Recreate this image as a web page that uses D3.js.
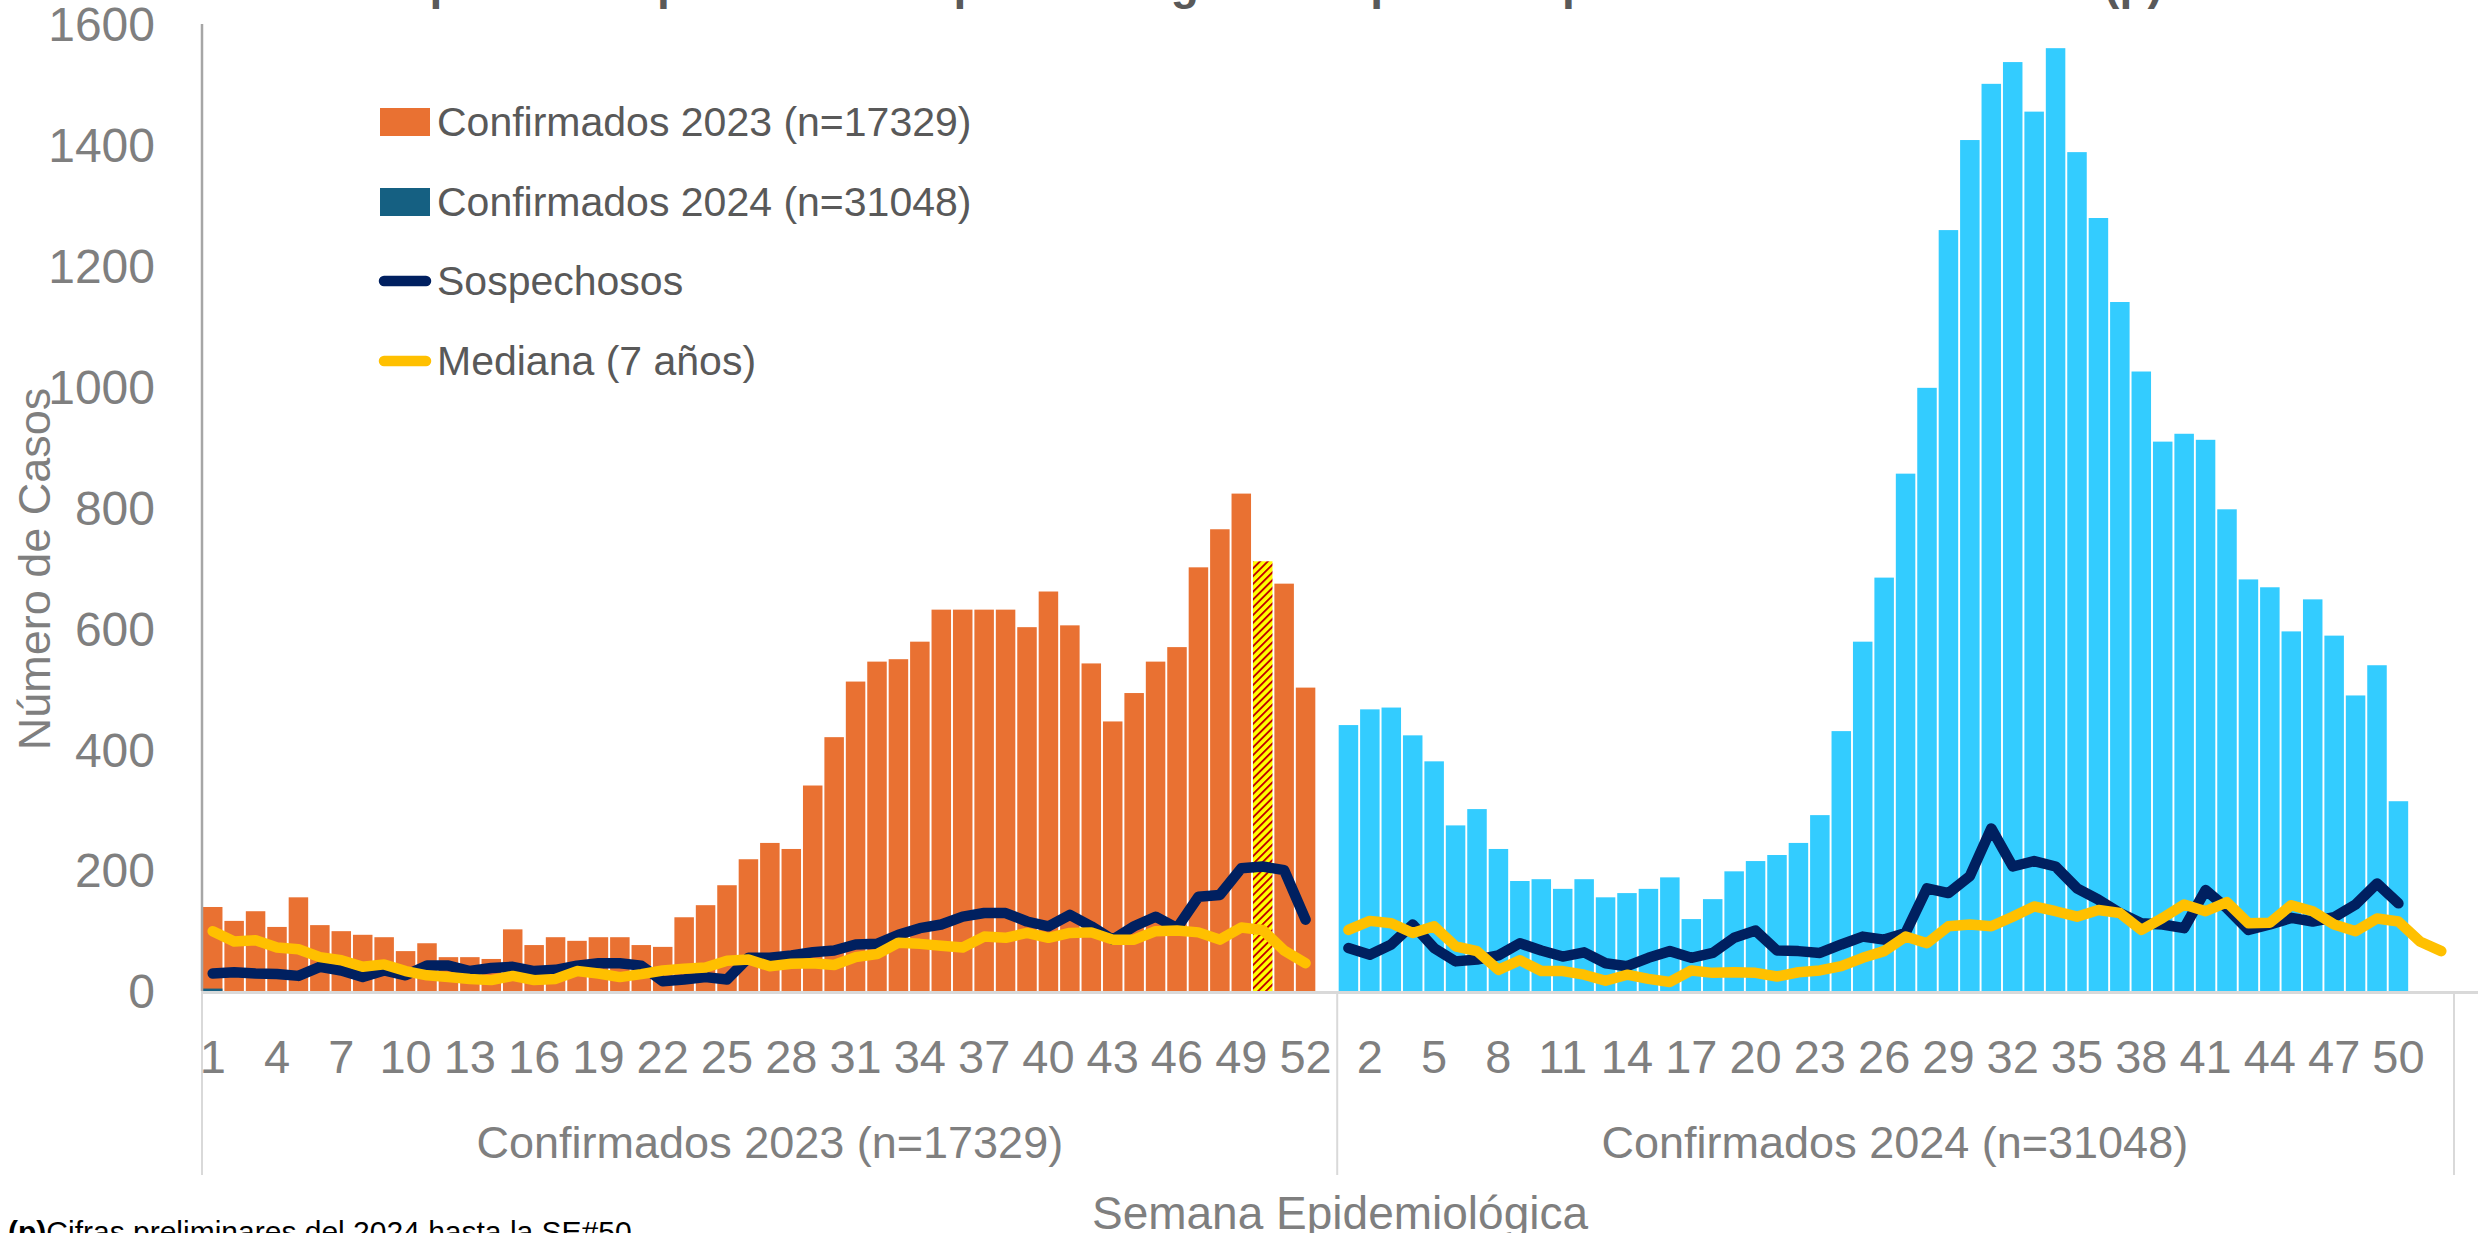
<!DOCTYPE html>
<html><head><meta charset="utf-8">
<script src="https://cdn.jsdelivr.net/npm/d3@7"></script>
<style>html,body{margin:0;padding:0;background:#fff;overflow:hidden;} svg{display:block;}</style>
</head><body>
<svg id="chart" width="2478" height="1233"></svg>
<script>
// ---------- DATA ----------
const groupKeys = ["2023", "2024"];
const groupLabels = ["Confirmados 2023 (n=17329)", "Confirmados 2024 (n=31048)"];
const groupWeekCounts = [53, 52];

const confirmados2023 = [139,116,132,106,155,109,99,93,89,66,79,56,56,53,102,76,89,83,89,89,76,73,122,142,175,218,245,235,340,420,512,545,549,578,631,631,631,631,602,661,605,542,446,493,545,569,701,764,823,711,674,502];
const highlightWeek2023 = 50;
const confirmados2024 = [440,466,469,423,380,274,301,235,182,185,169,185,155,162,169,188,119,152,198,215,225,245,291,430,578,684,856,998,1259,1408,1501,1537,1455,1560,1388,1279,1140,1025,909,922,912,797,681,668,595,648,588,489,539,314];
// small value of the "Confirmados 2024" series drawn in the first category slot
const confirmados2024FirstSlot = [4];

const sospechosos2023 = [29,31,29,28,25,40,34,23,34,26,42,42,33,38,40,33,35,42,46,46,42,16,19,23,19,55,55,59,64,67,77,78,93,104,110,123,129,129,115,107,126,107,85,107,123,104,156,159,203,206,200,118];
const sospechosos2024 = [71,60,77,110,71,49,52,59,79,67,57,64,46,41,55,66,55,63,88,100,67,66,63,77,90,85,96,170,162,190,269,206,215,206,170,151,129,112,110,104,167,137,101,110,121,115,122,143,178,145];

const mediana2023 = [99,82,84,72,69,56,51,40,44,33,26,23,20,18,25,18,20,33,29,23,28,34,37,39,50,52,41,45,46,43,56,61,80,78,75,72,90,88,96,88,96,97,85,85,99,100,97,85,105,101,67,46];
const mediana2024 = [101,116,112,96,107,74,66,35,51,33,33,27,17,27,20,15,34,30,31,30,24,31,34,41,55,66,90,79,107,110,107,123,140,132,123,134,129,101,121,143,132,147,112,113,142,132,110,99,120,115,82,66];

const tickWeeks2023 = [1,4,7,10,13,16,19,22,25,28,31,34,37,40,43,46,49,52];
const tickWeeks2024 = [2,5,8,11,14,17,20,23,26,29,32,35,38,41,44,47,50];
const yTicks = [0,200,400,600,800,1000,1200,1400,1600];

const legendLabels = ["Confirmados 2023 (n=17329)", "Confirmados 2024 (n=31048)", "Sospechosos", "Mediana (7 años)"];

const titleText = "Sospechosos por semana epidemiológica comparativo para los años 2023-2024 (p)";
const footnoteBold = "(p)";
const footnoteText = "Cifras preliminares del 2024 hasta la SE#50";
const xTitle = "Semana Epidemiológica";
const yTitle = "Número de Casos";

// ---------- STYLE ----------
const C = {
  orange: "#E97132", cyan: "#33CCFF", teal: "#156082", navy: "#002060", gold: "#FFC000",
  axis: "#D9D9D9", yaxis: "#A6A6A6", tick: "#7F7F7F", legend: "#595959", title: "#595959"
};
const FONT = "'Liberation Sans', Arial, sans-serif";

const svg = d3.select("#chart");
const plotLeft = 202, plotRight = 2452, plotTop = 24, plotBase = 991;

// categories
const cats = [];
groupKeys.forEach((g, gi) => { d3.range(1, groupWeekCounts[gi] + 1).forEach(w => cats.push(g + "-" + w)); });

const x = d3.scaleBand().domain(cats).range([plotLeft, plotRight]).paddingInner(0.09).paddingOuter(0.045);
const step = x.step();
const y = d3.scaleLinear().domain([0, 1600]).range([plotBase, plotTop]);
const cx = k => x(k) + x.bandwidth() / 2;

// pattern
const defs = svg.append("defs");
const pat = defs.append("pattern").attr("id", "hatch").attr("patternUnits", "userSpaceOnUse")
  .attr("width", 5.5).attr("height", 5.5).attr("patternTransform", "rotate(45)");
pat.append("rect").attr("width", 5.5).attr("height", 5.5).attr("fill", "#FFFF00");
pat.append("rect").attr("x", 0).attr("y", 0).attr("width", 1.9).attr("height", 5.5).attr("fill", "#C00000");

// title (mostly cut off at top)
svg.append("text").attr("x", 1254).attr("y", -1).attr("text-anchor", "middle")
  .attr("font-family", FONT).attr("font-weight", "bold").attr("font-size", 46)
  .attr("fill", C.title).text(titleText);

// bars 2023
const bars23 = confirmados2023.map((v, i) => ({ k: "2023-" + (i + 1), v, w: i + 1 }));
svg.append("g").selectAll("rect").data(bars23).join("rect")
  .attr("x", d => x(d.k)).attr("width", x.bandwidth())
  .attr("y", d => y(d.v)).attr("height", d => y(0) - y(d.v))
  .attr("fill", d => d.w === highlightWeek2023 ? "url(#hatch)" : C.orange);

// tiny teal bar (Confirmados 2024 series, first slot)
svg.append("g").selectAll("rect").data(confirmados2024FirstSlot).join("rect")
  .attr("x", x("2023-1")).attr("width", x.bandwidth())
  .attr("y", d => y(d)).attr("height", d => y(0) - y(d)).attr("fill", C.teal);

// bars 2024
const bars24 = confirmados2024.map((v, i) => ({ k: "2024-" + (i + 1), v }));
svg.append("g").selectAll("rect").data(bars24).join("rect")
  .attr("x", d => x(d.k)).attr("width", x.bandwidth())
  .attr("y", d => y(d.v)).attr("height", d => y(0) - y(d.v))
  .attr("fill", C.cyan);

// lines
function series(a23, a24) {
  const out = [];
  for (let w = 1; w <= groupWeekCounts[0]; w++) out.push({ k: "2023-" + w, v: a23[w - 1] ?? null });
  for (let w = 1; w <= groupWeekCounts[1]; w++) out.push({ k: "2024-" + w, v: a24[w - 1] ?? null });
  return out;
}
const line = d3.line().defined(d => d.v != null).x(d => cx(d.k)).y(d => y(d.v));
svg.append("path").datum(series(sospechosos2023, sospechosos2024)).attr("d", line)
  .attr("fill", "none").attr("stroke", C.navy).attr("stroke-width", 10.5)
  .attr("stroke-linejoin", "round").attr("stroke-linecap", "round");
svg.append("path").datum(series(mediana2023, mediana2024)).attr("d", line)
  .attr("fill", "none").attr("stroke", C.gold).attr("stroke-width", 10.5)
  .attr("stroke-linejoin", "round").attr("stroke-linecap", "round");

// axes
svg.append("line").attr("x1", plotLeft).attr("x2", 2478).attr("y1", plotBase + 1.5).attr("y2", plotBase + 1.5)
  .attr("stroke", C.axis).attr("stroke-width", 3);
svg.append("line").attr("x1", plotLeft).attr("x2", plotLeft).attr("y1", plotTop).attr("y2", plotBase)
  .attr("stroke", C.yaxis).attr("stroke-width", 2.5);
const sepX = [plotLeft, x("2024-1") - step * 0.045 - 0.5, 2454];
svg.append("g").selectAll("line").data(sepX).join("line")
  .attr("x1", d => d).attr("x2", d => d).attr("y1", plotBase).attr("y2", 1175)
  .attr("stroke", C.axis).attr("stroke-width", 2);

// y tick labels
svg.append("g").selectAll("text").data(yTicks).join("text")
  .attr("x", 155).attr("y", d => y(d)).attr("dy", "0.36em").attr("text-anchor", "end")
  .attr("font-family", FONT).attr("font-size", 48).attr("fill", C.tick).text(d => d);

// x tick labels
const xTickData = tickWeeks2023.map(w => ({ k: "2023-" + w, t: w })).concat(tickWeeks2024.map(w => ({ k: "2024-" + w, t: w })));
svg.append("g").selectAll("text").data(xTickData).join("text")
  .attr("x", d => cx(d.k)).attr("y", 1073).attr("text-anchor", "middle")
  .attr("font-family", FONT).attr("font-size", 47).attr("fill", C.tick).text(d => d.t);

// group labels
svg.append("g").selectAll("text").data(groupKeys).join("text")
  .attr("x", (g, i) => (x(g + "-1") + x(g + "-" + groupWeekCounts[i]) + x.bandwidth()) / 2)
  .attr("y", 1158).attr("text-anchor", "middle")
  .attr("font-family", FONT).attr("font-size", 45).attr("fill", C.tick).text((g, i) => groupLabels[i]);

// axis titles
svg.append("text").attr("x", 1340).attr("y", 1229).attr("text-anchor", "middle")
  .attr("font-family", FONT).attr("font-size", 46).attr("fill", C.tick).text(xTitle);
svg.append("text").attr("transform", "translate(50,569) rotate(-90)").attr("text-anchor", "middle")
  .attr("font-family", FONT).attr("font-size", 45).attr("fill", C.tick).text(yTitle);

// footnote
const fn = svg.append("text").attr("x", 8).attr("y", 1242)
  .attr("font-family", FONT).attr("font-size", 30).attr("fill", "#000");
fn.append("tspan").attr("font-weight", "bold").text(footnoteBold);
fn.append("tspan").text(footnoteText);

// legend
const lg = svg.append("g");
const rowsY = [122, 202, 281, 361];
const kinds = ["rect", "rect", "line", "line"];
const colors = [C.orange, C.teal, C.navy, C.gold];
legendLabels.forEach((lab, i) => {
  if (kinds[i] === "rect") {
    lg.append("rect").attr("x", 380).attr("y", rowsY[i] - 14).attr("width", 50).attr("height", 28).attr("fill", colors[i]);
  } else {
    lg.append("line").attr("x1", 384).attr("x2", 426).attr("y1", rowsY[i]).attr("y2", rowsY[i])
      .attr("stroke", colors[i]).attr("stroke-width", 10.5).attr("stroke-linecap", "round");
  }
  lg.append("text").attr("x", 437).attr("y", rowsY[i]).attr("dy", "0.35em")
    .attr("font-family", FONT).attr("font-size", 41).attr("fill", C.legend).text(lab);
});
</script>
</body></html>
